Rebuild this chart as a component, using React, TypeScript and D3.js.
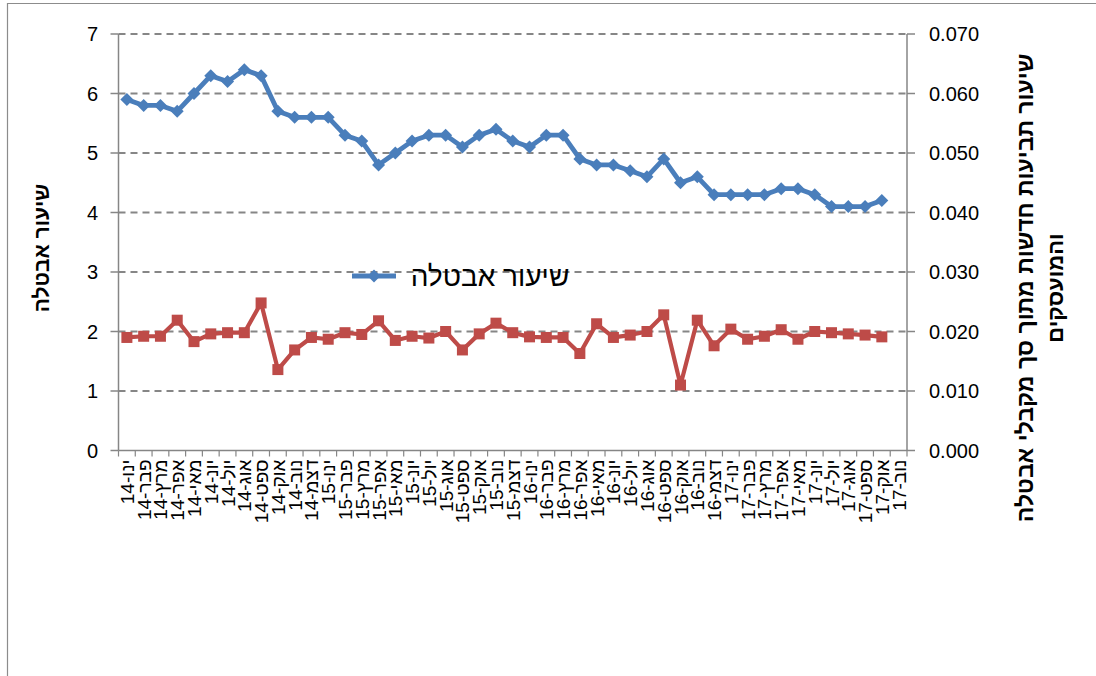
import React from "react";
import * as d3 from "d3";

const months = ["ינו", "פבר", "מרץ", "אפר", "מאי", "יונ", "יול", "אוג", "ספט", "אוק", "נוב", "דצמ"];
const years = ["14", "15", "16", "17"];
const categoryCount = 47;

const unemployment = [
  5.9, 5.8, 5.8, 5.7, 6.0, 6.3, 6.2, 6.4, 6.3, 5.7, 5.6, 5.6, 5.6, 5.3, 5.2, 4.8,
  5.0, 5.2, 5.3, 5.3, 5.1, 5.3, 5.4, 5.2, 5.1, 5.3, 5.3, 4.9, 4.8, 4.8, 4.7, 4.6,
  4.9, 4.5, 4.6, 4.3, 4.3, 4.3, 4.3, 4.4, 4.4, 4.3, 4.1, 4.1, 4.1, 4.2,
];

const claims = [
  0.019, 0.0192, 0.0192, 0.0219, 0.0183, 0.0196, 0.0198, 0.0198, 0.0248, 0.0136,
  0.0169, 0.019, 0.0187, 0.0198, 0.0195, 0.0218, 0.0185, 0.0192, 0.0189, 0.02,
  0.0169, 0.0196, 0.0214, 0.0198, 0.0191, 0.019, 0.019, 0.0163, 0.0213, 0.019,
  0.0194, 0.02, 0.0228, 0.011, 0.0219, 0.0176, 0.0204, 0.0187, 0.0192, 0.0203,
  0.0187, 0.02, 0.0198, 0.0196, 0.0194, 0.0191,
];

const leftTicks = [0, 1, 2, 3, 4, 5, 6, 7];
const rightTicks = [0, 0.01, 0.02, 0.03, 0.04, 0.05, 0.06, 0.07];

const leftTitle = "שיעור אבטלה";
const rightTitle1 = "שיעור תביעות חדשות מתוך סך מקבלי אבטלה";
const rightTitle2 = "והמועסקים";
const legendLabel = "שיעור אבטלה";

const categories: string[] = [];
years.forEach((y) => months.forEach((m) => categories.push(`${m}-${y}`)));
const cats = categories.slice(0, categoryCount);

const FONT = "'Liberation Sans', 'DejaVu Sans', sans-serif";
const GRID = "#868686";
const BLUE = "#4A7EBB";
const RED = "#BE4B48";

export default function App() {
  const left = 118.5;
  const right = 907;
  const top = 34;
  const bottom = 450.5;

  const x = d3.scaleBand<string>().domain(cats).range([left, right]).padding(0);
  const cx = (i: number) => (x(cats[i]) as number) + x.bandwidth() / 2;
  const yL = d3.scaleLinear().domain([0, 7]).range([bottom, top]);
  const yR = d3.scaleLinear().domain([0, 0.07]).range([bottom, top]);

  const blueLine = d3
    .line<number>()
    .x((_, i) => cx(i))
    .y((d) => yL(d))(unemployment) as string;
  const redLine = d3
    .line<number>()
    .x((_, i) => cx(i))
    .y((d) => yR(d))(claims) as string;

  const diamond = (px: number, py: number, r: number) =>
    `M${px},${py - r}L${px + r},${py}L${px},${py + r}L${px - r},${py}Z`;

  return (
    <svg
      width={1096}
      height={676}
      style={{ position: "absolute", left: 0, top: 0, background: "#fff" }}
      fontFamily={FONT}
    >
      <path d="M7.5,676V3.5H1096" fill="none" stroke="#8c8c8c" strokeWidth={1.2} />

      {/* gridlines */}
      {leftTicks.map((t) =>
        t === 0 ? null : (
          <line
            key={"g" + t}
            x1={left}
            x2={right}
            y1={yL(t)}
            y2={yL(t)}
            stroke={GRID}
            strokeWidth={1.8}
            strokeDasharray="7,5"
          />
        )
      )}

      {/* axes */}
      <line x1={left} x2={left} y1={top} y2={bottom} stroke={GRID} strokeWidth={1.5} />
      <line x1={right} x2={right} y1={top} y2={bottom} stroke={GRID} strokeWidth={1.5} />
      <line x1={left} x2={right} y1={bottom} y2={bottom} stroke={GRID} strokeWidth={1.5} />

      {leftTicks.map((t) => (
        <g key={"lt" + t}>
          <line x1={left - 8} x2={left} y1={yL(t)} y2={yL(t)} stroke={GRID} strokeWidth={1.5} />
          <text x={98} y={yL(t)} dy="0.35em" textAnchor="end" fontSize={20} fill="#000">
            {t}
          </text>
        </g>
      ))}
      {rightTicks.map((t) => (
        <g key={"rt" + t}>
          <line x1={right} x2={right + 8} y1={yR(t)} y2={yR(t)} stroke={GRID} strokeWidth={1.5} />
          <text x={929} y={yR(t)} dy="0.35em" textAnchor="start" fontSize={20} fill="#000">
            {d3.format(".3f")(t)}
          </text>
        </g>
      ))}

      {cats.map((c, i) => (
        <line
          key={"xt" + i}
          x1={x(c) as number}
          x2={x(c) as number}
          y1={bottom}
          y2={bottom + 6}
          stroke={GRID}
          strokeWidth={1.2}
        />
      ))}
      <line x1={right} x2={right} y1={bottom} y2={bottom + 6} stroke={GRID} strokeWidth={1.2} />

      {cats.map((c, i) => (
        <text
          key={"xl" + i}
          transform={`translate(${cx(i) + 7},${bottom + 9}) rotate(-90)`}
          textAnchor="end"
          fontSize={19}
          fill="#000"
        >
          {c}
        </text>
      ))}

      {/* series */}
      <path d={redLine} fill="none" stroke={RED} strokeWidth={4.2} strokeLinejoin="round" />
      {claims.map((d, i) => (
        <rect key={"r" + i} x={cx(i) - 5.5} y={yR(d) - 5.5} width={11} height={11} fill={RED} />
      ))}
      <path d={blueLine} fill="none" stroke={BLUE} strokeWidth={4.8} strokeLinejoin="round" />
      {unemployment.map((d, i) => (
        <path key={"b" + i} d={diamond(cx(i), yL(d), 6.5)} fill={BLUE} />
      ))}

      {/* legend */}
      <line x1={352} x2={396} y1={276} y2={276} stroke={BLUE} strokeWidth={4.8} />
      <path d={diamond(374, 276, 6.5)} fill={BLUE} />
      <text x={490} y={276} dy="0.35em" textAnchor="middle" fontSize={28} fill="#000">
        {legendLabel}
      </text>

      {/* axis titles */}
      <text
        transform={`translate(42,248) rotate(-90)`}
        textAnchor="middle"
        dy="0.35em"
        fontSize={21}
        fontWeight="bold"
        fill="#000"
      >
        {leftTitle}
      </text>
      <text
        transform={`translate(1025,288) rotate(-90)`}
        textAnchor="middle"
        dy="0.35em"
        fontSize={23}
        fontWeight="bold"
        fill="#000"
      >
        {rightTitle1}
      </text>
      <text
        transform={`translate(1055,288) rotate(-90)`}
        textAnchor="middle"
        dy="0.35em"
        fontSize={22}
        fontWeight="bold"
        fill="#000"
      >
        {rightTitle2}
      </text>
    </svg>
  );
}
